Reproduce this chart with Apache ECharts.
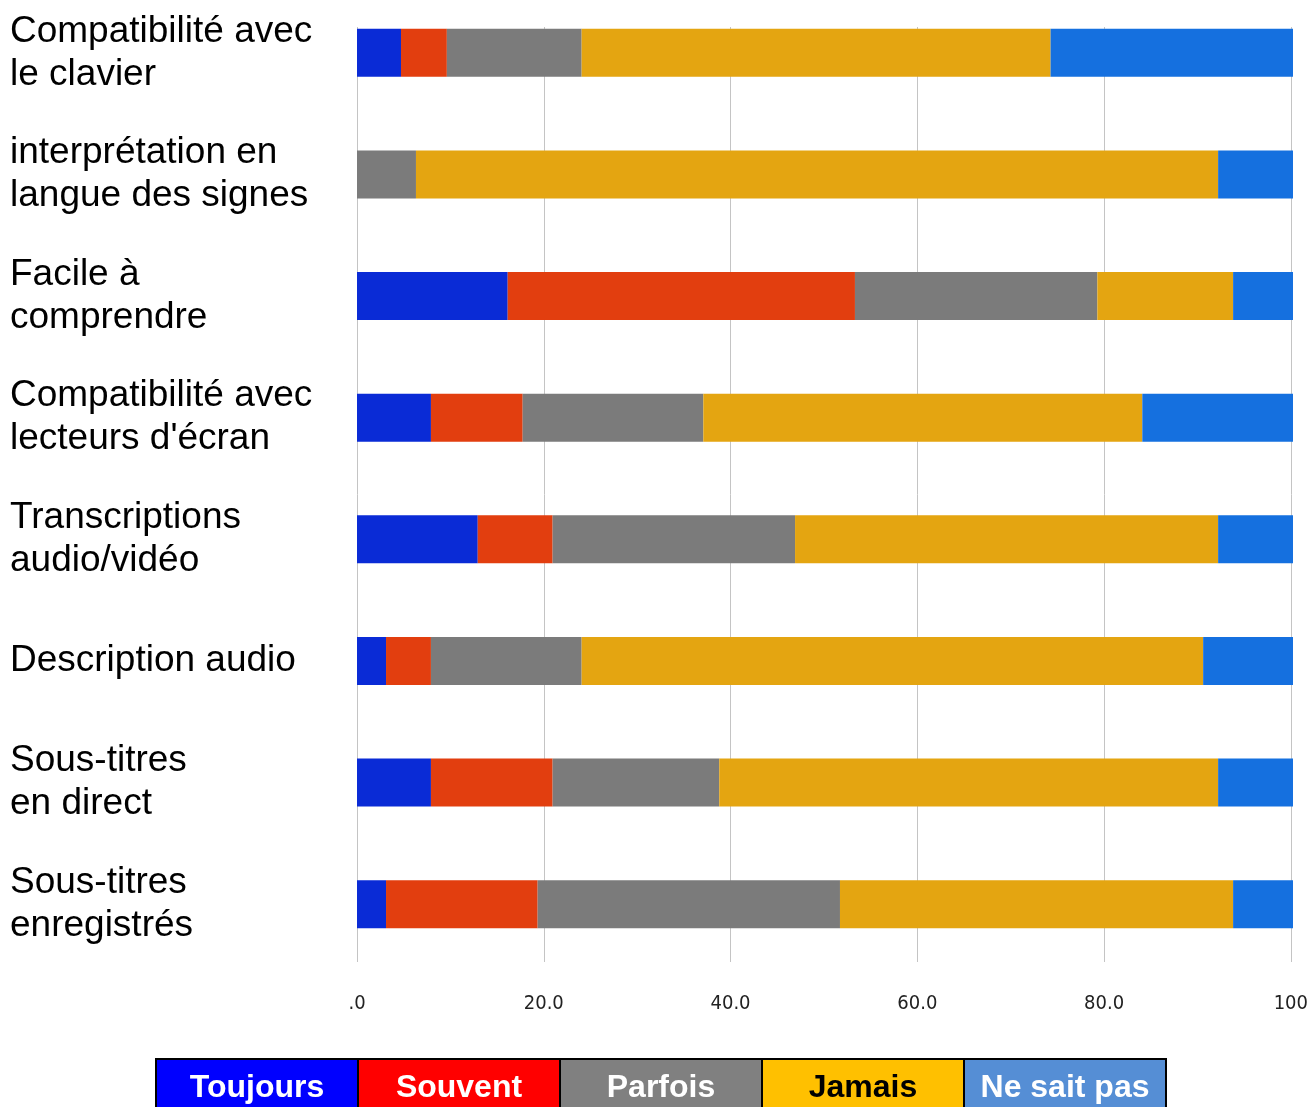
<!DOCTYPE html>
<html lang="fr">
<head>
<meta charset="utf-8">
<title>Accessibilité des contenus</title>
<script src="https://cdn.jsdelivr.net/npm/echarts@6/dist/echarts.min.js"></script>
<style>
  html, body { margin: 0; padding: 0; background: #fff; overflow: hidden; }
  /* canvas starts slightly above the page so the first band can begin above its top edge */
  #chart { width: 1311px; height: 1115px; margin-top: -8px; }
</style>
</head>
<body>
<div id="chart"></div>
<script>
// Questions (top to bottom)
const categories = [
  'Compatibilité avec\nle clavier',
  'interprétation en\nlangue des signes',
  'Facile à\ncomprendre',
  'Compatibilité avec\nlecteurs d\'écran',
  'Transcriptions\naudio/vidéo',
  'Description audio',
  'Sous-titres\nen direct',
  'Sous-titres\nenregistrés'
];

// Answer shares in percent, one array per answer
const toujours  = [4.7, 0.0, 16.1, 7.9, 12.9, 3.1, 7.9, 3.1];
const souvent   = [4.9, 0.0, 37.1, 9.8, 8.0, 4.8, 13.0, 16.2];
const parfois   = [14.4, 6.3, 25.9, 19.3, 25.9, 16.1, 17.8, 32.3];
const jamais    = [50.1, 85.7, 14.5, 46.9, 45.2, 66.4, 53.3, 42.0];
const neSaitPas = [25.9, 8.0, 6.4, 16.1, 8.0, 9.6, 8.0, 6.4];

const seriesNames = ['Toujours', 'Souvent', 'Parfois', 'Jamais', 'Ne sait pas'];
const seriesData = [toujours, souvent, parfois, jamais, neSaitPas];

// Value axis tick labels as printed
const tickValues = [0, 20, 40, 60, 80, 100];
const tickLabels = ['.0', '20.0', '40.0', '60.0', '80.0', '100'];

// Colours
const barColors = ['#0A2BD6', '#E23E0F', '#7B7B7B', '#E4A511', '#1570DF'];
const legendColors = ['#0000FF', '#FF0000', '#808080', '#FFC000', '#558ED5'];
const legendTextColors = ['#FFFFFF', '#FFFFFF', '#FFFFFF', '#000000', '#FFFFFF'];

const chart = echarts.init(document.getElementById('chart'), null, { renderer: 'canvas' });

const series = seriesNames.map((name, i) => ({
  name: name,
  type: 'bar',
  stack: 'total',
  xAxisIndex: 0,
  yAxisIndex: 0,
  barWidth: 48,
  itemStyle: { color: barColors[i] },
  emphasis: { disabled: true },
  data: seriesData[i]
}));

// Legend drawn as a row of filled boxes
const legendLeft = 155, legendTop = 1066, cellW = 202, cellH = 60;
const legendGraphics = seriesNames.map((name, i) => ({
  type: 'group',
  left: legendLeft + i * cellW,
  top: legendTop,
  children: [
    {
      type: 'rect',
      shape: { x: 0, y: 0, width: cellW, height: cellH },
      style: { fill: legendColors[i], stroke: '#000', lineWidth: 2 }
    },
    {
      type: 'text',
      x: cellW / 2,
      y: 29,
      style: {
        text: name,
        fill: legendTextColors[i],
        font: 'bold 32px "Liberation Sans", Arial, sans-serif',
        align: 'center',
        verticalAlign: 'middle'
      }
    }
  ]
}));

chart.setOption({
  animation: false,
  backgroundColor: '#fff',
  grid: [
    // bars
    { left: 357, right: 18, top: 0, bottom: 142, containLabel: false },
    // vertical guide lines and value labels
    { left: 357, right: 18, top: 35, bottom: 145, containLabel: false }
  ],
  xAxis: [
    { gridIndex: 0, type: 'value', min: 0, max: 100, show: false },
    {
      gridIndex: 1, type: 'value', min: 0, max: 100, interval: 20,
      axisLine: { show: false },
      axisTick: { show: false },
      splitLine: { show: true, lineStyle: { color: '#c4c4c4', width: 1 } },
      axisLabel: {
        margin: 32,
        color: '#222',
        fontSize: 20,
        fontFamily: '"Liberation Sans Narrow", "DejaVu Sans Condensed", "Liberation Sans", sans-serif',
        formatter: function (v) {
          const k = tickValues.indexOf(v);
          return k >= 0 ? tickLabels[k] : '';
        }
      }
    }
  ],
  yAxis: [
    {
      gridIndex: 0, type: 'category', inverse: true, data: categories,
      axisLine: { show: false },
      axisTick: { show: false },
      splitLine: { show: false },
      axisLabel: {
        align: 'left',
        margin: 347,
        color: '#000',
        fontSize: 37,
        lineHeight: 43,
        fontFamily: '"Liberation Sans", Arial, sans-serif'
      }
    },
    { gridIndex: 1, type: 'value', show: false }
  ],
  series: series,
  graphic: legendGraphics
});
</script>
</body>
</html>
